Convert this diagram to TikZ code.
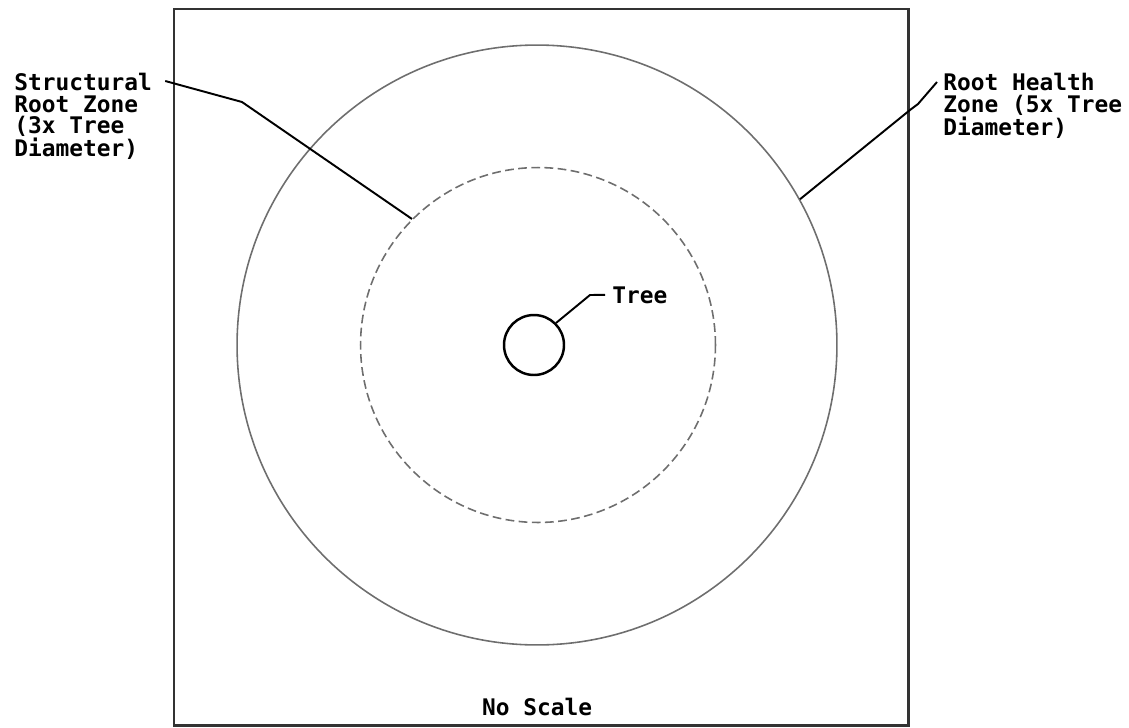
\documentclass[tikz,border=0pt]{standalone}
\usepackage{fontspec}
\setmonofont{DejaVu Sans Mono}
\usepackage{tikz}
\usetikzlibrary{positioning, calc}
\definecolor{inkgray}{HTML}{333333}
\definecolor{zonegray}{HTML}{6E6E6E}

\begin{document}
\begin{tikzpicture}[x=0.02cm, y=-0.02cm,
    zone/.style={circle, draw=zonegray, line width=0.9pt, inner sep=0pt},
    label/.style={inner sep=0pt, align=left, font=\ttfamily\bfseries\fontsize{13}{12.2}\selectfont},
    leader/.style={draw=black, line width=1.1pt, line join=round}
]
    \useasboundingbox (0,0) rectangle (1129,727);
    \draw[inkgray, line width=1.7pt] (174,9) rectangle (908,725);

    \node[zone, minimum size=12cm] (health) at (537,345) {};
    \node[zone, dashed, dash pattern=on 5pt off 2.5pt, minimum size=7.1cm] (struct) at (538,345) {};
    \node[circle, draw=black, line width=1.4pt, minimum size=1.2cm, inner sep=0pt] (tree) at (534,345) {};

    \node[label, anchor=north west] (structlbl) at (14,73) {Structural\\Root Zone\\(3x Tree\\Diameter)};
    \node[label, anchor=north west] (healthlbl) at (943,73) {Root Health\\Zone (5x Tree\\Diameter)};
    \node[label, anchor=base west] (treelbl) at (612,303) {Tree};
    \node[label, anchor=base] (scalelbl) at (537,715) {No Scale};

    \draw[leader] ($(structlbl.north east)+(13,8)$) -- (242,102) -- (struct.135);
    \draw[leader] (health.29.5) -- (910,110) -- (918,104) -- ($(healthlbl.north west)+(-6,9)$);
    \draw[leader] (tree.45) -- (590,295) -- ($(treelbl.west)+(-7,0)$);
\end{tikzpicture}
\end{document}
